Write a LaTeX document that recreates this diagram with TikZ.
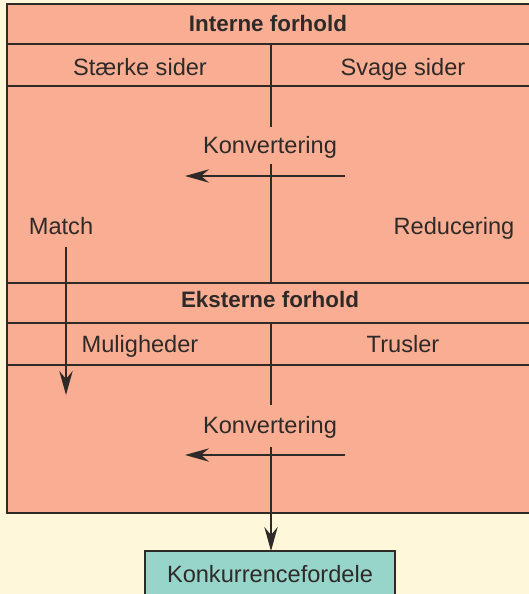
\documentclass[tikz,border=0pt]{standalone}
\usepackage{fontspec}
\setmainfont{Liberation Sans}
\usetikzlibrary{arrows.meta}
\definecolor{cream}{HTML}{FEF7DA}
\definecolor{salmon}{HTML}{F9AE93}
\definecolor{teal2}{HTML}{97D4CA}
\definecolor{ink}{HTML}{2E2A28}
\tikzset{
  grid/.style={draw=ink, line width=1.2pt},
  label/.style={anchor=base, inner sep=0pt, text=ink, font=\fontsize{17.7}{20}\selectfont},
  title/.style={anchor=base, inner sep=0pt, text=ink, font=\bfseries\fontsize{16.8}{20}\selectfont},
  flow/.style={draw=ink, line width=1.1pt, -{Stealth[length=18pt, width=10pt, inset=6pt]}},
  result/.style={draw=ink, line width=1.4pt, fill=teal2},
}
\begin{document}
\begin{tikzpicture}[x=0.75pt, y=-0.75pt]
\useasboundingbox (0,0) rectangle (529,594);
\clip (0,0) rectangle (529,594);
\fill[cream] (0,0) rectangle (529,594);
% main table
\draw[grid, fill=salmon] (7,4) rectangle (540,513);
\foreach \yy in {44,86,283,323,365} \draw[grid] (7,\yy) -- (540,\yy);
% vertical divider pieces
\coordinate (d1) at (271,44);
\coordinate (d2) at (271,127);
\coordinate (d3) at (271,164);
\coordinate (d4) at (271,283);
\coordinate (d5) at (271,323);
\coordinate (d6) at (271,405);
\coordinate (d7) at (271,447);
\draw[grid] (d1) -- (d2);
\draw[grid] (d3) -- (d4);
\draw[grid] (d5) -- (d6);
% result box
\draw[result] (145,551) rectangle (395,610);
\node[label] (res) at (270,582) {Konkurrencefordele};
\coordinate (restop) at (271,551);
% texts
\node[title] (int) at (268,31) {Interne forhold};
\node[label] (st) at (140,75) {Stærke sider};
\node[label] (sv) at (403,75) {Svage sider};
\node[label] (k1) at (270,153) {Konvertering};
\node[label] (ma) at (61,234) {Match};
\node[label] (re) at (454,234) {Reducering};
\node[title] (ek) at (270,307) {Eksterne forhold};
\node[label] (mu) at (140,352) {Muligheder};
\node[label] (tr) at (403,352) {Trusler};
\node[label] (k2) at (270,433) {Konvertering};
% arrows
\coordinate (a1s) at (345,176);
\coordinate (a1e) at (185,176);
\coordinate (a2s) at (345,455);
\coordinate (a2e) at (185,455);
\coordinate (ms) at (66,247);
\coordinate (me) at (66,395);
\draw[flow] (a1s) -- (a1e);
\draw[flow] (a2s) -- (a2e);
\draw[flow] (ms) -- (me);
\draw[flow] (d7) -- (restop);
\end{tikzpicture}
\end{document}
